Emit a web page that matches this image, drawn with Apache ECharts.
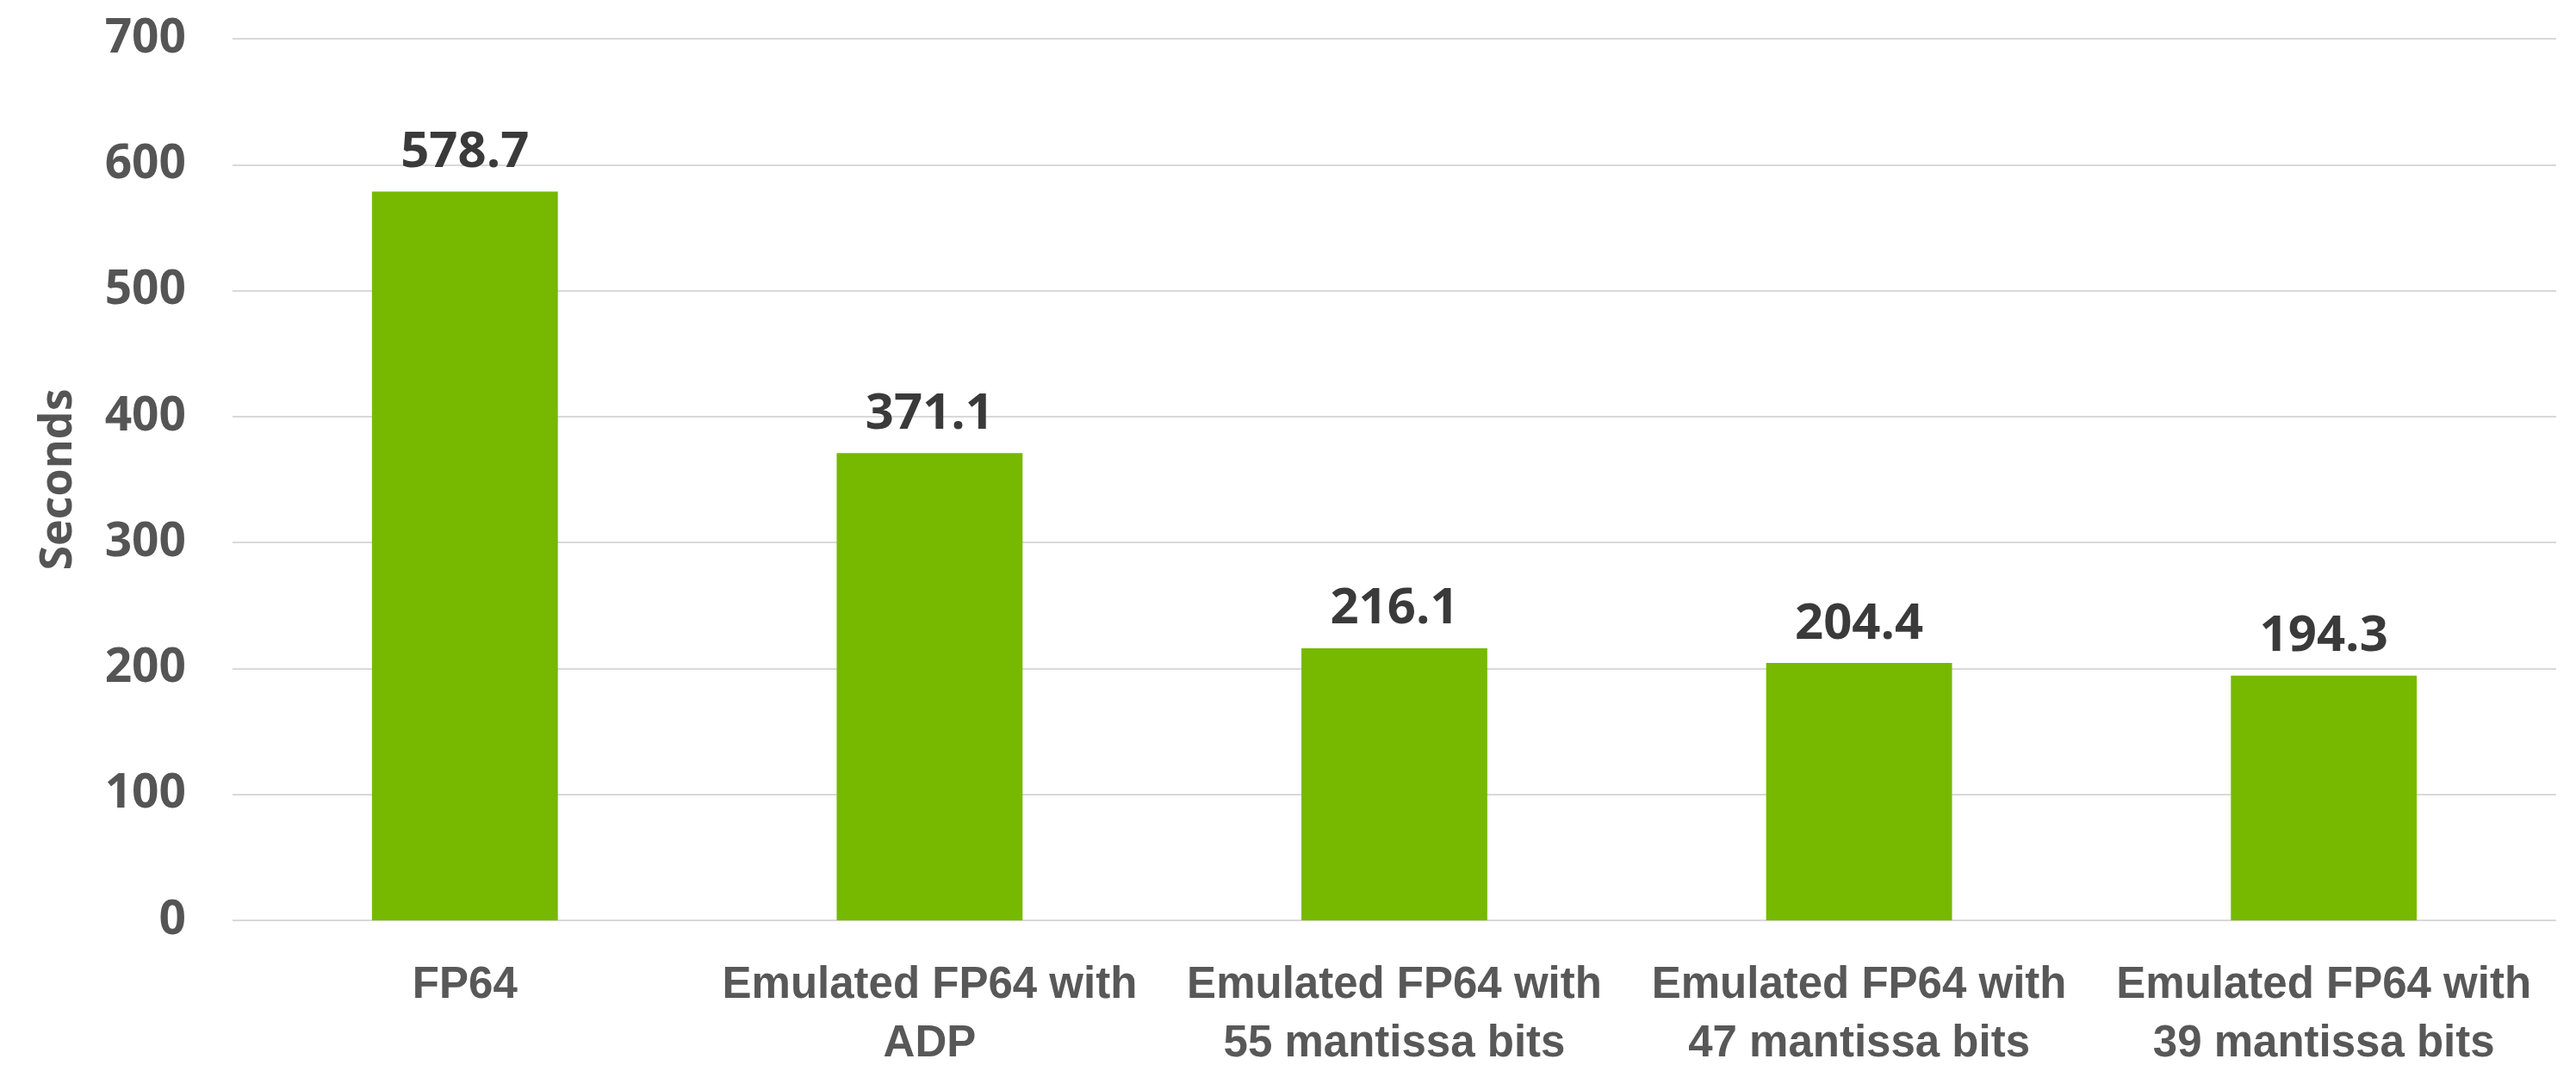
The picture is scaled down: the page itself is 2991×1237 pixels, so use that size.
<!DOCTYPE html>
<html>
<head>
<meta charset="utf-8">
<script src="https://cdn.jsdelivr.net/npm/echarts@6/dist/echarts.min.js"></script>
<style>
html,body{margin:0;padding:0;background:#fff;}
#chart{width:2991px;height:1237px;}
</style>
</head>
<body>
<div id="chart"></div>
<script>
var categories = [
  "FP64",
  "Emulated FP64 with\nADP",
  "Emulated FP64 with\n55 mantissa bits",
  "Emulated FP64 with\n47 mantissa bits",
  "Emulated FP64 with\n39 mantissa bits"
];
var seconds = [578.7, 371.1, 216.1, 204.4, 194.3];
var yTicks = [0, 100, 200, 300, 400, 500, 600, 700];
var yAxisName = "Seconds";

var chart = echarts.init(document.getElementById('chart'), null, {renderer: 'canvas'});
chart.setOption({
  animation: false,
  backgroundColor: '#ffffff',
  grid: {left: 270, right: 23, top: 45, bottom: 168, containLabel: false, outerBoundsMode: 'none'},
  xAxis: {
    type: 'category',
    data: categories,
    axisLine: {show: false},
    axisTick: {show: false},
    axisLabel: {
      interval: 0,
      margin: 42,
      color: '#585858',
      fontFamily: 'Liberation Sans, Arial, sans-serif',
      fontWeight: 'bold',
      fontSize: 51,
      lineHeight: 68
    }
  },
  yAxis: {
    type: 'value',
    min: yTicks[0],
    max: yTicks[yTicks.length - 1],
    interval: yTicks[1] - yTicks[0],
    name: yAxisName,
    nameLocation: 'middle',
    nameGap: 176,
    nameRotate: 90,
    nameTextStyle: {
      color: '#555555',
      fontFamily: 'Open Sans, Noto Sans, sans-serif',
      fontWeight: 'bold',
      fontSize: 52
    },
    axisLine: {show: false},
    axisTick: {show: false},
    axisLabel: {
      margin: 54,
      color: '#555555',
      fontFamily: 'Open Sans, Noto Sans, sans-serif',
      fontWeight: 'bold',
      fontSize: 55
    },
    splitLine: {lineStyle: {color: '#d9d9d9', width: 2}}
  },
  series: [{
    type: 'bar',
    data: seconds,
    barWidth: '40%',
    itemStyle: {color: '#76b900'},
    label: {
      show: true,
      position: 'top',
      distance: 16,
      color: '#3a3a3a',
      fontFamily: 'Open Sans, Noto Sans, sans-serif',
      fontWeight: 'bold',
      fontSize: 58,
      formatter: function (p) { return p.value.toFixed(1); }
    }
  }]
});
</script>
</body>
</html>
